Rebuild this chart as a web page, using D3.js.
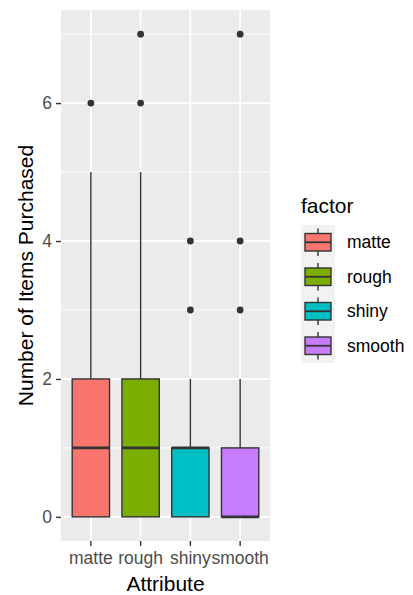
<!DOCTYPE html>
<html>
<head>
<meta charset="utf-8">
<script src="https://cdn.jsdelivr.net/npm/d3@7"></script>
<style>
  html, body { margin: 0; padding: 0; background: #ffffff; }
  svg { display: block; font-family: "Liberation Sans", Arial, sans-serif; }
</style>
</head>
<body>
<svg id="chart" width="413" height="595"></svg>
<script>
// Box-plot summaries per attribute
const categories = ["matte", "rough", "shiny", "smooth"];
const fillColors = ["#F8766D", "#7CAE00", "#00BFC4", "#C77CFF"];
const lowerWhisker = [0, 0, 0, 0];
const lowerQuartile = [0, 0, 0, 0];
const medians = [1, 1, 1, 0];
const upperQuartile = [2, 2, 1, 1];
const upperWhisker = [5, 5, 2, 2];
const outliers = [[6], [6, 7], [3, 4], [3, 4, 7]];
const yTicks = [0, 2, 4, 6];
const yMinorTicks = [1, 3, 5, 7];

const svg = d3.select("#chart");
const panel = { left: 61, right: 270, top: 10, bottom: 541 };

const x = d3.scaleBand()
  .domain(categories)
  .range([panel.left, panel.right])
  .paddingInner(0)
  .paddingOuter(0.1);
const cx = c => x(c) + x.bandwidth() / 2;
const boxW = x.bandwidth() * 0.75;

const y = d3.scaleLinear()
  .domain([-0.35, 7.35])
  .range([panel.bottom, panel.top]);

const lineW = 1.4;

// panel background
svg.append("rect")
  .attr("x", panel.left).attr("y", panel.top)
  .attr("width", panel.right - panel.left)
  .attr("height", panel.bottom - panel.top)
  .attr("fill", "#EBEBEB");

// grid lines
const grid = svg.append("g");
grid.selectAll(".minor").data(yMinorTicks).join("line")
  .attr("x1", panel.left).attr("x2", panel.right)
  .attr("y1", d => y(d)).attr("y2", d => y(d))
  .attr("stroke", "#ffffff").attr("stroke-width", 0.9);
grid.selectAll(".major").data(yTicks).join("line")
  .attr("x1", panel.left).attr("x2", panel.right)
  .attr("y1", d => y(d)).attr("y2", d => y(d))
  .attr("stroke", "#ffffff").attr("stroke-width", 1.8);
grid.selectAll(".vmajor").data(categories).join("line")
  .attr("x1", d => cx(d)).attr("x2", d => cx(d))
  .attr("y1", panel.top).attr("y2", panel.bottom)
  .attr("stroke", "#ffffff").attr("stroke-width", 1.8);

// boxes
const boxes = svg.append("g").selectAll("g").data(categories).join("g");
boxes.append("line")
  .attr("x1", (d) => cx(d)).attr("x2", (d) => cx(d))
  .attr("y1", (d, i) => y(upperQuartile[i])).attr("y2", (d, i) => y(upperWhisker[i]))
  .attr("stroke", "#333333").attr("stroke-width", lineW);
boxes.append("line")
  .attr("x1", (d) => cx(d)).attr("x2", (d) => cx(d))
  .attr("y1", (d, i) => y(lowerQuartile[i])).attr("y2", (d, i) => y(lowerWhisker[i]))
  .attr("stroke", "#333333").attr("stroke-width", lineW);
boxes.append("rect")
  .attr("x", d => cx(d) - boxW / 2)
  .attr("width", boxW)
  .attr("y", (d, i) => y(upperQuartile[i]))
  .attr("height", (d, i) => y(lowerQuartile[i]) - y(upperQuartile[i]))
  .attr("fill", (d, i) => fillColors[i])
  .attr("stroke", "#333333").attr("stroke-width", lineW);
boxes.append("line")
  .attr("x1", d => cx(d) - boxW / 2).attr("x2", d => cx(d) + boxW / 2)
  .attr("y1", (d, i) => y(medians[i])).attr("y2", (d, i) => y(medians[i]))
  .attr("stroke", "#333333").attr("stroke-width", 2.8);
boxes.each(function (d, i) {
  d3.select(this).selectAll("circle").data(outliers[i]).join("circle")
    .attr("cx", cx(d)).attr("cy", v => y(v)).attr("r", 3.4)
    .attr("fill", "#333333");
});

// axes
const yAxis = svg.append("g")
  .attr("transform", `translate(${panel.left},0)`)
  .call(d3.axisLeft(y).tickValues(yTicks).tickSize(5).tickPadding(4).tickFormat(d3.format("d")));
const xAxis = svg.append("g")
  .attr("transform", `translate(0,${panel.bottom})`)
  .call(d3.axisBottom(x).tickSize(5).tickPadding(6));
[yAxis, xAxis].forEach(a => {
  a.select(".domain").remove();
  a.selectAll(".tick line").attr("stroke", "#333333").attr("stroke-width", lineW);
  a.selectAll(".tick text").attr("fill", "#4D4D4D").style("font-size", "17.5px")
    .style("font-family", "'Liberation Sans', Arial, sans-serif");
});

// axis titles
svg.append("text")
  .attr("x", (panel.left + panel.right) / 2).attr("y", 591)
  .attr("text-anchor", "middle")
  .style("font-size", "21px").attr("fill", "#000000")
  .text("Attribute");
svg.append("text")
  .attr("transform", `translate(33,${(panel.top + panel.bottom) / 2}) rotate(-90)`)
  .attr("text-anchor", "middle")
  .style("font-size", "21px").attr("fill", "#000000")
  .text("Number of Items Purchased");

// legend
const legend = svg.append("g").attr("transform", "translate(301,0)");
legend.append("text")
  .attr("x", 0).attr("y", 213)
  .style("font-size", "21px").attr("fill", "#000000")
  .text("factor");
const keyH = 34.5, keyW = 34, keyTop = 225;
const keys = legend.selectAll(".key").data(categories).join("g")
  .attr("transform", (d, i) => `translate(0,${keyTop + i * keyH})`);
keys.append("rect")
  .attr("x", 0).attr("y", 0).attr("width", keyW).attr("height", keyH)
  .attr("fill", "#F2F2F2");
keys.append("line")
  .attr("x1", keyW / 2).attr("x2", keyW / 2).attr("y1", 3.5).attr("y2", keyH - 3.5)
  .attr("stroke", "#333333").attr("stroke-width", lineW);
keys.append("rect")
  .attr("x", 4).attr("y", 8.5).attr("width", keyW - 8).attr("height", keyH - 17)
  .attr("fill", (d, i) => fillColors[i])
  .attr("stroke", "#333333").attr("stroke-width", lineW);
keys.append("line")
  .attr("x1", 4).attr("x2", keyW - 4).attr("y1", keyH / 2).attr("y2", keyH / 2)
  .attr("stroke", "#333333").attr("stroke-width", 1.8);
keys.append("text")
  .attr("x", keyW + 12).attr("y", keyH / 2).attr("dy", "0.35em")
  .style("font-size", "17.5px").attr("fill", "#000000")
  .text(d => d);
</script>
</body>
</html>
